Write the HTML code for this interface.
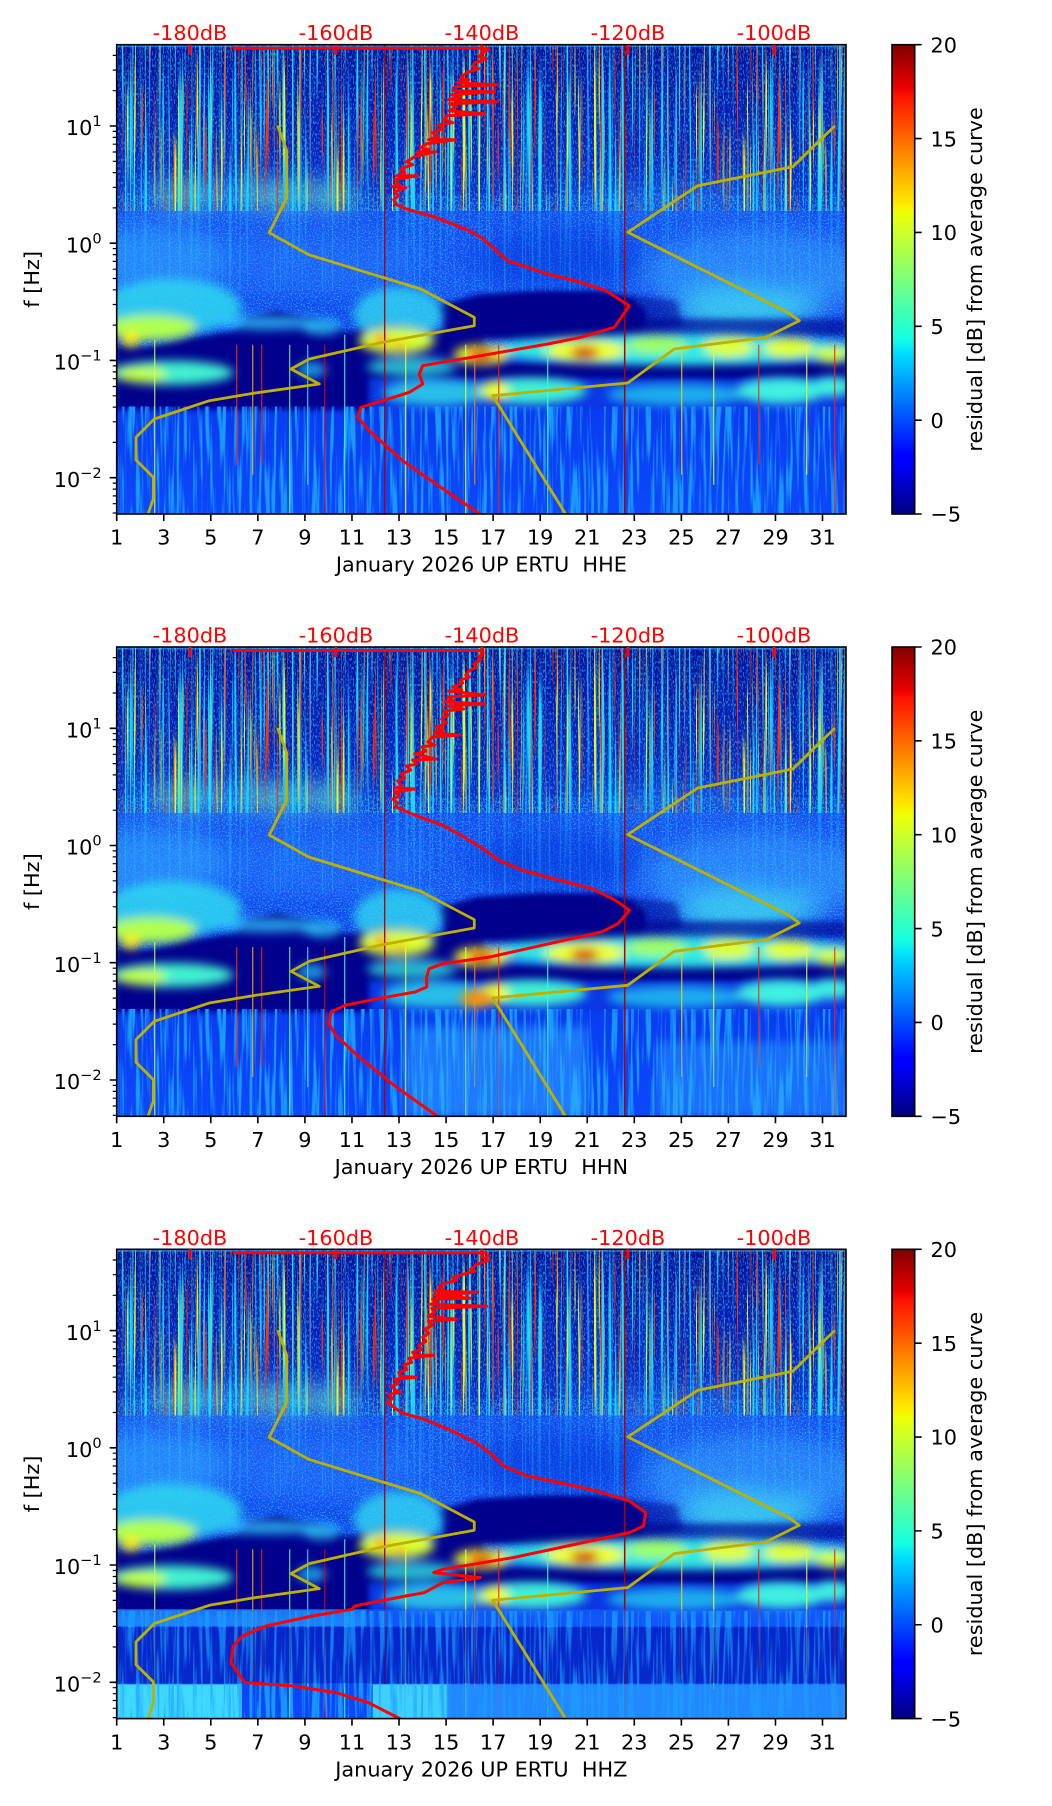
<!DOCTYPE html>
<html><head><meta charset="utf-8"><style>
html,body{margin:0;padding:0;background:#fff;}
svg{display:block;}
text{font-family:"DejaVu Sans","Liberation Sans",sans-serif;font-size:20.8px;fill:#000;}
.r{fill:#ff0000;}
</style></head><body>
<svg width="1052" height="1806" viewBox="0 0 1052 1806" xmlns="http://www.w3.org/2000/svg">
<defs>
 <clipPath id="clipA"><rect x="0" y="0" width="729.3" height="469.3"/></clipPath>
 <linearGradient id="gBase" x1="0" y1="0" x2="0" y2="1">
  <stop offset="0" stop-color="#030e9c"/>
  <stop offset="0.1" stop-color="#0616ac"/>
  <stop offset="0.27" stop-color="#0a26c4"/>
  <stop offset="0.345" stop-color="#0e30d2"/>
  <stop offset="0.357" stop-color="#1848ee"/>
  <stop offset="0.52" stop-color="#1a4ef4"/>
  <stop offset="0.62" stop-color="#0c3ae0"/>
  <stop offset="0.77" stop-color="#0a36e4"/>
  <stop offset="0.78" stop-color="#0a3cf0"/>
  <stop offset="1" stop-color="#0c48fa"/>
 </linearGradient>
 <linearGradient id="jet" x1="0" y1="1" x2="0" y2="0">
  <stop offset="0" stop-color="#000080"/>
  <stop offset="0.11" stop-color="#0000ff"/>
  <stop offset="0.125" stop-color="#0000ff"/>
  <stop offset="0.34" stop-color="#00dbff"/>
  <stop offset="0.375" stop-color="#15ffe2"/>
  <stop offset="0.64" stop-color="#eeff08"/>
  <stop offset="0.66" stop-color="#ffec00"/>
  <stop offset="0.89" stop-color="#ff1300"/>
  <stop offset="0.91" stop-color="#e80000"/>
  <stop offset="1" stop-color="#800000"/>
 </linearGradient>
 <filter id="b3" x="-20%" y="-20%" width="140%" height="140%"><feGaussianBlur stdDeviation="3"/></filter>
 <filter id="b5" x="-20%" y="-20%" width="140%" height="140%"><feGaussianBlur stdDeviation="5"/></filter>
 <filter id="b12" x="-30%" y="-30%" width="160%" height="160%"><feGaussianBlur stdDeviation="12"/></filter>
 <filter id="spk" x="0" y="0" width="1" height="1" color-interpolation-filters="sRGB">
  <feTurbulence type="fractalNoise" baseFrequency="0.7" numOctaves="1" seed="7"/>
  <feColorMatrix type="matrix" values="0 0 0 0 0.15  0 0 0 0 0.72  0 0 0 0 1  6 0 0 0 -3.0"/>
 </filter>
 <filter id="spkT" x="0" y="0" width="1" height="1" color-interpolation-filters="sRGB">
  <feTurbulence type="fractalNoise" baseFrequency="0.9 0.35" numOctaves="1" seed="17"/>
  <feColorMatrix type="matrix" values="0 0 0 0 0.15  0 0 0 0 0.8  0 0 0 0 1  7 0 0 0 -3.6"/>
 </filter>
 <filter id="stkC" x="0" y="0" width="1" height="1" color-interpolation-filters="sRGB">
  <feTurbulence type="fractalNoise" baseFrequency="0.4 0.004" numOctaves="2" seed="11"/>
  <feColorMatrix type="matrix" values="0 0 0 0 0.1  0 0 0 0 0.85  0 0 0 0 1  7 0 0 0 -3.8"/>
 </filter>
 <filter id="stkY" x="0" y="0" width="1" height="1" color-interpolation-filters="sRGB">
  <feTurbulence type="fractalNoise" baseFrequency="0.45 0.005" numOctaves="2" seed="23"/>
  <feColorMatrix type="matrix" values="0 0 0 0 0.95  0 0 0 0 0.95  0 0 0 0 0.1  10 0 0 0 -6.5"/>
 </filter>
 <filter id="stkR" x="0" y="0" width="1" height="1" color-interpolation-filters="sRGB">
  <feTurbulence type="fractalNoise" baseFrequency="0.5 0.006" numOctaves="2" seed="31"/>
  <feColorMatrix type="matrix" values="0 0 0 0 1  0 0 0 0 0.2  0 0 0 0 0  12 0 0 0 -7.8"/>
 </filter>
 <filter id="stkL" x="0" y="0" width="1" height="1" color-interpolation-filters="sRGB">
  <feTurbulence type="fractalNoise" baseFrequency="0.3 0.012" numOctaves="2" seed="5"/>
  <feColorMatrix type="matrix" values="0 0 0 0 0.1  0 0 0 0 0.6  0 0 0 0 1  5 0 0 0 -2.4"/>
 </filter>

 <g id="spec">
  <rect x="0" y="0" width="730" height="470" fill="url(#gBase)"/>
  <rect x="0" y="0" width="730" height="2.5" fill="#2060f0"/>
  <rect x="0" y="0" width="730" height="166" fill="#000" filter="url(#spkT)" opacity="0.55"/>
  <rect x="0" y="150" width="730" height="160" fill="#000" filter="url(#spk)" opacity="0.7"/>
  <g filter="url(#b12)">
   <ellipse cx="40" cy="215" rx="70" ry="35" fill="#30a8ff" opacity="0.6"/>
   <ellipse cx="200" cy="215" rx="110" ry="30" fill="#2a80ff" opacity="0.35"/>
   <ellipse cx="440" cy="215" rx="90" ry="30" fill="#0a30d8" opacity="0.5"/>
   <ellipse cx="640" cy="230" rx="110" ry="45" fill="#40b8ff" opacity="0.45"/>
   <ellipse cx="620" cy="265" rx="60" ry="25" fill="#40e0f0" opacity="0.7"/>
   <ellipse cx="680" cy="262" rx="25" ry="18" fill="#40d8f0" opacity="0.6"/>
   <ellipse cx="130" cy="148" rx="120" ry="14" fill="#40c0ff" opacity="0.5"/>
   <ellipse cx="70" cy="150" rx="28" ry="11" fill="#80f0a0" opacity="0.6"/>
   <ellipse cx="160" cy="150" rx="30" ry="11" fill="#80f0a0" opacity="0.6"/>
   <ellipse cx="215" cy="150" rx="24" ry="11" fill="#80f0a0" opacity="0.6"/>
   <ellipse cx="560" cy="150" rx="120" ry="12" fill="#30a0ff" opacity="0.35"/>
  </g>
  <g filter="url(#b3)" fill="#00008c">
   <polygon points="0,300 30,303 70,293 117,286 133,273 160,266 200,276 233,288 262,276 300,282 330,286 365,292 372,316 330,318 252,318 252,365 0,365"/>
   <polygon points="320,262 360,250 420,246 480,246 515,252 530,268 525,290 470,296 420,296 365,294 330,290"/>
   <polygon points="160,318 729,318 729,334 160,334"/>
   <polygon points="500,274 729,274 729,291 500,291" opacity="0.6"/>
   <polygon points="515,250 560,256 566,280 520,290" opacity="0.5"/>
  </g>
  <g filter="url(#b5)">
   <ellipse cx="55" cy="262" rx="70" ry="28" fill="#30d8f0" opacity="0.85"/>
   <ellipse cx="35" cy="283" rx="45" ry="13" fill="#b0ff50"/>
   <ellipse cx="14" cy="295" rx="10" ry="7" fill="#ffe800"/>
   <ellipse cx="150" cy="278" rx="55" ry="7" fill="#30c8ff" opacity="0.8"/>
   <ellipse cx="55" cy="328" rx="62" ry="12" fill="#40f0d0"/>
   <ellipse cx="25" cy="330" rx="25" ry="8" fill="#c0ff40"/>
   <ellipse cx="205" cy="282" rx="20" ry="8" fill="#30d0ff" opacity="0.8"/>
   <ellipse cx="195" cy="325" rx="15" ry="8" fill="#30d0ff" opacity="0.7"/>
   <ellipse cx="282" cy="270" rx="45" ry="28" fill="#30d8f0" opacity="0.8"/>
   <ellipse cx="280" cy="296" rx="38" ry="13" fill="#d8ff30"/>
   <ellipse cx="265" cy="295" rx="7" ry="5" fill="#ff7000"/>
   <ellipse cx="283" cy="301" rx="6" ry="4" fill="#ff9a00"/>
   <ellipse cx="295" cy="322" rx="45" ry="10" fill="#30e0e0" opacity="0.8"/>
   <ellipse cx="320" cy="348" rx="55" ry="13" fill="#30e0e8" opacity="0.8"/>
   <ellipse cx="560" cy="305" rx="190" ry="15" fill="#30e8e0"/>
   <ellipse cx="365" cy="310" rx="28" ry="10" fill="#f0f020"/>
   <ellipse cx="365" cy="311" rx="13" ry="6" fill="#e01000"/>
   <ellipse cx="468" cy="306" rx="40" ry="11" fill="#f0ff20"/>
   <ellipse cx="468" cy="308" rx="14" ry="6" fill="#d00000"/>
   <ellipse cx="540" cy="300" rx="30" ry="9" fill="#a0ff60"/>
   <ellipse cx="612" cy="302" rx="25" ry="10" fill="#e0ff30"/>
   <ellipse cx="672" cy="303" rx="25" ry="10" fill="#e0ff30"/>
   <ellipse cx="715" cy="310" rx="18" ry="8" fill="#d0ff40"/>
   <ellipse cx="415" cy="346" rx="55" ry="13" fill="#40f0d0"/>
   <ellipse cx="378" cy="346" rx="14" ry="10" fill="#f0ff30"/>
   <ellipse cx="560" cy="350" rx="70" ry="11" fill="#20c8f0" opacity="0.8"/>
   <ellipse cx="665" cy="346" rx="45" ry="13" fill="#40f0e0"/>
   <ellipse cx="715" cy="342" rx="20" ry="10" fill="#40f0e0"/>
  </g>
  <rect x="0" y="0" width="730" height="166" fill="#000" filter="url(#stkC)"/>
  <rect x="0" y="0" width="730" height="166" fill="#000" filter="url(#stkY)"/>
  <rect x="0" y="0" width="730" height="166" fill="#000" filter="url(#stkR)"/>
  <rect x="0" y="166" width="730" height="80" fill="#000" filter="url(#stkC)" opacity="0.3"/>
  <rect x="0" y="362" width="730" height="108" fill="#000" filter="url(#stkL)"/>
  <g stroke-width="1.3" opacity="0.8">
   <line x1="38" y1="295" x2="38" y2="470" stroke="#d0ff40"/>
   <line x1="120" y1="300" x2="120" y2="420" stroke="#ff3000"/>
   <line x1="136" y1="300" x2="136" y2="430" stroke="#ffb000"/>
   <line x1="145" y1="300" x2="145" y2="420" stroke="#ff2000"/>
   <line x1="173" y1="300" x2="173" y2="470" stroke="#60ffa0"/>
   <line x1="191" y1="300" x2="191" y2="440" stroke="#40e0ff"/>
   <line x1="208" y1="300" x2="208" y2="470" stroke="#e00000"/>
   <line x1="228" y1="290" x2="228" y2="470" stroke="#40ffd0"/>
   <line x1="289" y1="300" x2="289" y2="470" stroke="#f0ff30"/>
   <line x1="349" y1="300" x2="349" y2="470" stroke="#e0ff40"/>
   <line x1="358" y1="300" x2="358" y2="440" stroke="#ff8000"/>
   <line x1="382" y1="300" x2="382" y2="470" stroke="#ff2000"/>
   <line x1="431" y1="300" x2="431" y2="470" stroke="#40ffd0"/>
   <line x1="565" y1="300" x2="565" y2="430" stroke="#ffd000"/>
   <line x1="597" y1="300" x2="597" y2="440" stroke="#e0ff30"/>
   <line x1="642" y1="300" x2="642" y2="420" stroke="#ff2000"/>
   <line x1="690" y1="300" x2="690" y2="430" stroke="#f0ff30"/>
   <line x1="718" y1="300" x2="718" y2="470" stroke="#ff2000"/>
  </g>
  <line x1="268" y1="0" x2="268" y2="470" stroke="#b00000" stroke-width="1.3"/>
  <line x1="508" y1="0" x2="508" y2="470" stroke="#b00000" stroke-width="1.5"/>
 </g>

 <g id="nm" fill="none" stroke="#bfb000" stroke-width="2.8" stroke-linejoin="round">
  <polyline points="161,81 170,106 170,153 152.6,188 192,210 266,232.7 304,244.3 357.6,272.7 357.6,281 266,297.6 192.6,314.3 174.3,324.3 202.6,339.3 136,348.7 92.6,356 37.6,374.3 19.3,392.6 19.3,415.3 36.6,432.6 36.6,454.3 31,470"/>
  <polyline points="718.3,81 676,122 581,141 511,187.6 671,267.7 682.6,276 649.3,292.6 557.6,304.3 511,338.3 376,351 449.3,470"/>
 </g>

 <g id="ticks" stroke="#000">
  <rect x="0" y="0" width="729.3" height="469.3" fill="none" stroke-width="1.6"/>
  <path stroke-width="1.6" d="M-7 81.3H0M-7 198.5H0M-7 315.7H0M-7 433H0"/>
  <path stroke-width="1.2" d="M-4 468.3H0M-4 459H0M-4 451.2H0M-4 444.4H0M-4 438.4H0M-4 397.7H0M-4 377.1H0M-4 362.4H0M-4 351.1H0M-4 341.8H0M-4 334H0M-4 327.2H0M-4 321.2H0M-4 280.4H0M-4 259.8H0M-4 245.1H0M-4 233.8H0M-4 224.5H0M-4 216.7H0M-4 209.9H0M-4 203.9H0M-4 163.2H0M-4 142.6H0M-4 127.9H0M-4 116.6H0M-4 107.3H0M-4 99.5H0M-4 92.7H0M-4 86.7H0M-4 46H0M-4 25.4H0M-4 10.7H0"/>
  <path stroke-width="1.6" d="M0 469.3V476.3M47.05 469.3V476.3M94.11 469.3V476.3M141.16 469.3V476.3M188.22 469.3V476.3M235.27 469.3V476.3M282.32 469.3V476.3M329.38 469.3V476.3M376.43 469.3V476.3M423.49 469.3V476.3M470.54 469.3V476.3M517.59 469.3V476.3M564.65 469.3V476.3M611.7 469.3V476.3M658.76 469.3V476.3M705.81 469.3V476.3"/>
  <path stroke="#ff0000" stroke-width="3" d="M73.3 0V10M219.3 0V10M365.3 0V10M511.3 0V10M657.3 0V10"/>
 </g>

 <g id="cbar">
  <rect x="892" y="44.7" width="22.7" height="469.3" fill="url(#jet)" stroke="#000" stroke-width="1.6"/>
  <path stroke="#000" stroke-width="1.6" d="M914.7 44.7H921.7M914.7 138.56H921.7M914.7 232.42H921.7M914.7 326.28H921.7M914.7 420.14H921.7M914.7 514H921.7"/>
 </g>
</defs>

<!-- PANEL 1 -->
<g transform="translate(116.7,44.7)">
 <g clip-path="url(#clipA)">
  <use href="#spec"/>
  <path d="M116,3.5H373" stroke="#ff0000" stroke-width="3" fill="none"/>
  <polyline fill="none" stroke="#ff0000" stroke-width="3" stroke-linejoin="round" points="373,4 366,8 362,12 370,14 358,18 356,22 362,24 350,28 344,33 352,35 340,38 381,40 338,42 336,46 378,47 334,50 344,52 332,55 381,57 333,59 340,62 332,66 368,69 330,71 328,75 336,78 322,80 326,84 316,88 322,92 312,95 339,95 310,99 304,103 312,105 300,108 319,107 298,112 290,117 296,120 284,124 288,128 280,131 301,131 278,135 282,139 276,142 289,143 278,147 282,151 277,155 280,160 289,164 319,172.6 352.6,186 365,193 391,216 431,229.3 464.3,237.6 489.3,246 512.6,261 497.6,282.6 464.3,292.6 431,299.3 364.3,311 306,321 302.6,329.3 306,339.3 292.6,347.6 266,356 244.3,362.6 241,372.6 252.6,386 286,416 319.3,439.3 364,470"/>
  <use href="#nm"/>
 </g>
 <use href="#ticks"/>
 <g text-anchor="middle">
  <text x="0" y="500">1</text><text x="47.05" y="500">3</text><text x="94.11" y="500">5</text><text x="141.16" y="500">7</text><text x="188.22" y="500">9</text><text x="235.27" y="500">11</text><text x="282.32" y="500">13</text><text x="329.38" y="500">15</text><text x="376.43" y="500">17</text><text x="423.49" y="500">19</text><text x="470.54" y="500">21</text><text x="517.59" y="500">23</text><text x="564.65" y="500">25</text><text x="611.7" y="500">27</text><text x="658.76" y="500">29</text><text x="705.81" y="500">31</text>
  <text class="r" x="73.3" y="-4.5">-180dB</text><text class="r" x="219.3" y="-4.5">-160dB</text><text class="r" x="365.3" y="-4.5">-140dB</text><text class="r" x="511.3" y="-4.5">-120dB</text><text class="r" x="657.3" y="-4.5">-100dB</text>
  <text x="364.65" y="527" style="white-space:pre">January 2026 UP ERTU  HHE</text>
  <text transform="translate(-77.5,234.65) rotate(-90)">f [Hz]</text>
 </g>
 <g text-anchor="end">
  <text x="-15" y="90.5">10<tspan dy="-9" font-size="14.6">1</tspan></text>
  <text x="-15" y="207.7">10<tspan dy="-9" font-size="14.6">0</tspan></text>
  <text x="-15" y="324.9">10<tspan dy="-9" font-size="14.6">−1</tspan></text>
  <text x="-15" y="442.2">10<tspan dy="-9" font-size="14.6">−2</tspan></text>
 </g>
</g>
<use href="#cbar"/>
<g>
 <text x="930.5" y="52.4">20</text><text x="930.5" y="146.3">15</text><text x="930.5" y="240.1">10</text><text x="930.5" y="334">5</text><text x="930.5" y="427.8">0</text><text x="930.5" y="521.7">−5</text>
 <text text-anchor="middle" transform="translate(982,279.4) rotate(-90)">residual [dB] from average curve</text>
</g>

<!-- PANEL 2 -->
<g transform="translate(116.7,647)">
 <g clip-path="url(#clipA)">
  <use href="#spec"/>
  <g filter="url(#b5)">
   <rect x="290" y="380" width="180" height="90" fill="#30b0ff" opacity="0.5"/>
   <rect x="540" y="395" width="190" height="75" fill="#30b0ff" opacity="0.4"/>
   <ellipse cx="360" cy="352" rx="16" ry="8" fill="#ff9000"/>
  </g>
  <path d="M116,3.5H367" stroke="#ff0000" stroke-width="3" fill="none"/>
  <polyline fill="none" stroke="#ff0000" stroke-width="3" stroke-linejoin="round" points="367,5 362,10 364,13 357,17 360,20 352,24 349,28 353,30 344,33 346,36 336,40 345,43 332,44 368,48 331,50 336,53 329,55 368,57 330,59 347,62 327,64 332,68 325,72 330,76 320,80 326,83 318,86 343,88 316,90 311,95 318,98 305,100 309,104 298,107 319,112 296,113 300,117 290,119 294,123 284,127 288,131 281,134 285,139 279,141 298,142 278,145 283,149 276,152 281,156 279,160 298.4,168.3 326.3,178.3 347.3,190 363.6,200 382.3,213.3 405.6,223.3 442.9,233.3 475.5,241.7 498.8,253.3 512.8,263.3 501.2,276.7 484.8,285 447.6,293.3 410.3,301.7 373,310 326.3,316.7 312.4,321.7 310,330 310,340 298.4,345 261,351.7 228.4,358.3 214.5,365 212.1,376.7 219.1,388.3 242.4,410 279.7,440 321.7,470"/>
  <use href="#nm"/>
 </g>
 <use href="#ticks"/>
 <g text-anchor="middle">
  <text x="0" y="500">1</text><text x="47.05" y="500">3</text><text x="94.11" y="500">5</text><text x="141.16" y="500">7</text><text x="188.22" y="500">9</text><text x="235.27" y="500">11</text><text x="282.32" y="500">13</text><text x="329.38" y="500">15</text><text x="376.43" y="500">17</text><text x="423.49" y="500">19</text><text x="470.54" y="500">21</text><text x="517.59" y="500">23</text><text x="564.65" y="500">25</text><text x="611.7" y="500">27</text><text x="658.76" y="500">29</text><text x="705.81" y="500">31</text>
  <text class="r" x="73.3" y="-4.5">-180dB</text><text class="r" x="219.3" y="-4.5">-160dB</text><text class="r" x="365.3" y="-4.5">-140dB</text><text class="r" x="511.3" y="-4.5">-120dB</text><text class="r" x="657.3" y="-4.5">-100dB</text>
  <text x="364.65" y="527" style="white-space:pre">January 2026 UP ERTU  HHN</text>
  <text transform="translate(-77.5,234.65) rotate(-90)">f [Hz]</text>
 </g>
 <g text-anchor="end">
  <text x="-15" y="90.5">10<tspan dy="-9" font-size="14.6">1</tspan></text>
  <text x="-15" y="207.7">10<tspan dy="-9" font-size="14.6">0</tspan></text>
  <text x="-15" y="324.9">10<tspan dy="-9" font-size="14.6">−1</tspan></text>
  <text x="-15" y="442.2">10<tspan dy="-9" font-size="14.6">−2</tspan></text>
 </g>
</g>
<g transform="translate(0,602.3)">
 <use href="#cbar"/>
 <text x="930.5" y="52.4">20</text><text x="930.5" y="146.3">15</text><text x="930.5" y="240.1">10</text><text x="930.5" y="334">5</text><text x="930.5" y="427.8">0</text><text x="930.5" y="521.7">−5</text>
 <text text-anchor="middle" transform="translate(982,279.4) rotate(-90)">residual [dB] from average curve</text>
</g>

<!-- PANEL 3 -->
<g transform="translate(116.7,1249.3)">
 <g clip-path="url(#clipA)">
  <use href="#spec"/>
  <rect x="0" y="378" width="730" height="56" fill="#0418b0" opacity="0.6"/>
  <rect x="0" y="360" width="250" height="17" fill="#2090ff" opacity="0.8"/>
  <rect x="250" y="360" width="480" height="17" fill="#1870ff" opacity="0.5"/>
  <rect x="0" y="435" width="125" height="35" fill="#40d8ff"/>
  <rect x="256" y="435" width="75" height="35" fill="#40d0ff"/>
  <rect x="330" y="435" width="400" height="35" fill="#2898ff" opacity="0.8"/>
  <rect x="0" y="362" width="730" height="108" fill="#000" filter="url(#stkL)" opacity="0.6"/>
  <path d="M116,3.5H371" stroke="#ff0000" stroke-width="3" fill="none"/>
  <polyline fill="none" stroke="#ff0000" stroke-width="3" stroke-linejoin="round" points="373,5 368,9 372,11 360,15 354,20 358,22 346,25 336,28 340,31 328,34 322,37 326,40 318,42 361,43 318,46 354,49 316,50 320,53 314,55 370,57 315,59 318,63 312,67 340,70 312,72 316,76 308,80 312,84 306,88 309,92 302,96 305,100 296,103 298,106 317,106 292,109 295,113 287,116 290,120 282,123 284,127 300,128 278,130 282,134 275,137 279,141 284,143 272,145 276,149 271,153 284.4,163.3 307.7,170 335.7,181.7 359,193.3 373,203.3 387,216.7 410.3,226.7 442.9,233.3 480.2,241.7 512.8,251.7 529.1,263.3 526.8,276.7 512.8,283.3 489.5,288.3 442.9,298.3 396.3,308.3 326.3,320 317,323.3 363.6,328.3 354.3,330 326.3,333.3 307.7,343.3 289,346.7 237.8,356.7 235.4,360 195.8,366.7 149.2,376.7 125.9,386.7 116.6,396.7 114.2,413.3 128.2,433.3 177.2,436.7 219.1,443.3 251.7,453.3 284.4,470"/>
  <use href="#nm"/>
 </g>
 <use href="#ticks"/>
 <g text-anchor="middle">
  <text x="0" y="500">1</text><text x="47.05" y="500">3</text><text x="94.11" y="500">5</text><text x="141.16" y="500">7</text><text x="188.22" y="500">9</text><text x="235.27" y="500">11</text><text x="282.32" y="500">13</text><text x="329.38" y="500">15</text><text x="376.43" y="500">17</text><text x="423.49" y="500">19</text><text x="470.54" y="500">21</text><text x="517.59" y="500">23</text><text x="564.65" y="500">25</text><text x="611.7" y="500">27</text><text x="658.76" y="500">29</text><text x="705.81" y="500">31</text>
  <text class="r" x="73.3" y="-4.5">-180dB</text><text class="r" x="219.3" y="-4.5">-160dB</text><text class="r" x="365.3" y="-4.5">-140dB</text><text class="r" x="511.3" y="-4.5">-120dB</text><text class="r" x="657.3" y="-4.5">-100dB</text>
  <text x="364.65" y="527" style="white-space:pre">January 2026 UP ERTU  HHZ</text>
  <text transform="translate(-77.5,234.65) rotate(-90)">f [Hz]</text>
 </g>
 <g text-anchor="end">
  <text x="-15" y="90.5">10<tspan dy="-9" font-size="14.6">1</tspan></text>
  <text x="-15" y="207.7">10<tspan dy="-9" font-size="14.6">0</tspan></text>
  <text x="-15" y="324.9">10<tspan dy="-9" font-size="14.6">−1</tspan></text>
  <text x="-15" y="442.2">10<tspan dy="-9" font-size="14.6">−2</tspan></text>
 </g>
</g>
<g transform="translate(0,1204.6)">
 <use href="#cbar"/>
 <text x="930.5" y="52.4">20</text><text x="930.5" y="146.3">15</text><text x="930.5" y="240.1">10</text><text x="930.5" y="334">5</text><text x="930.5" y="427.8">0</text><text x="930.5" y="521.7">−5</text>
 <text text-anchor="middle" transform="translate(982,279.4) rotate(-90)">residual [dB] from average curve</text>
</g>
</svg>
</body></html>
